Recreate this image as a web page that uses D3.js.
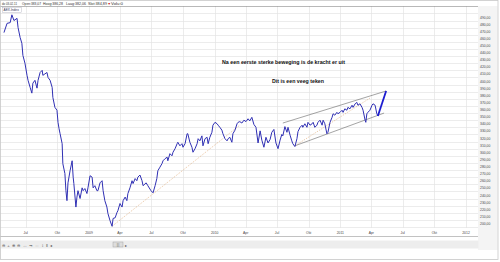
<!DOCTYPE html>
<html>
<head>
<meta charset="utf-8">
<script src="https://cdn.jsdelivr.net/npm/d3@7"></script>
<style>
body { margin: 0; background: #fff; }
text { font-family: "Liberation Sans", Arial, sans-serif; }
</style>
</head>
<body>
<div id="chart"></div>
<script>
// AEX-Index closes
var dates = [
  "2008-04-29","2008-05-08","2008-05-17","2008-05-22","2008-05-28","2008-06-06","2008-06-09","2008-06-15","2008-06-20","2008-06-23",
  "2008-06-29","2008-07-05","2008-07-08","2008-07-14","2008-07-19","2008-07-22","2008-07-28","2008-08-03","2008-08-06","2008-08-12",
  "2008-08-18","2008-08-20","2008-08-26","2008-09-01","2008-09-04","2008-09-10","2008-09-16","2008-09-18","2008-09-24","2008-09-30",
  "2008-10-03","2008-10-06","2008-10-09","2008-10-15","2008-10-17","2008-10-23","2008-10-26","2008-10-29","2008-11-01","2008-11-07",
  "2008-11-13","2008-11-16","2008-11-18","2008-11-24","2008-11-27","2008-11-30","2008-12-06","2008-12-12","2008-12-15","2008-12-20",
  "2008-12-26","2008-12-29","2009-01-04","2009-01-10","2009-01-13","2009-01-18","2009-01-24","2009-01-27","2009-02-02","2009-02-08",
  "2009-02-11","2009-02-16","2009-02-22","2009-02-25","2009-03-03","2009-03-09","2009-03-12","2009-03-18","2009-03-23","2009-03-26",
  "2009-04-01","2009-04-07","2009-04-10","2009-04-16","2009-04-21","2009-04-24","2009-04-30","2009-05-06","2009-05-09","2009-05-15",
  "2009-05-20","2009-05-23","2009-05-29","2009-06-04","2009-06-07","2009-06-16","2009-06-21","2009-06-30","2009-07-06","2009-07-12",
  "2009-07-17","2009-07-20","2009-07-26","2009-08-01","2009-08-04","2009-08-10","2009-08-16","2009-08-18","2009-08-24","2009-08-30",
  "2009-09-02","2009-09-08","2009-09-14","2009-09-16","2009-09-22","2009-09-28","2009-10-01","2009-10-07","2009-10-13","2009-10-15",
  "2009-10-21","2009-10-27","2009-10-30","2009-11-05","2009-11-11","2009-11-14","2009-11-19","2009-11-25","2009-11-28","2009-12-04",
  "2009-12-10","2009-12-13","2009-12-18","2009-12-24","2009-12-27","2010-01-02","2010-01-08","2010-01-11","2010-01-16","2010-01-22",
  "2010-01-25","2010-01-31","2010-02-06","2010-02-09","2010-02-14","2010-02-20","2010-02-23","2010-03-01","2010-03-07","2010-03-10",
  "2010-03-15","2010-03-21","2010-03-27","2010-04-02","2010-04-08","2010-04-13","2010-04-19","2010-04-25","2010-05-01","2010-05-07",
  "2010-05-13","2010-05-18","2010-05-24","2010-05-30","2010-06-05","2010-06-11","2010-06-16","2010-06-22","2010-06-28","2010-07-04",
  "2010-07-10","2010-07-15","2010-07-18","2010-07-24","2010-07-30","2010-08-02","2010-08-08","2010-08-13","2010-08-16","2010-08-22",
  "2010-08-28","2010-08-31","2010-09-06","2010-09-12","2010-09-14","2010-09-20","2010-09-26","2010-09-29","2010-10-05","2010-10-11",
  "2010-10-14","2010-10-19","2010-10-25","2010-10-28","2010-11-03","2010-11-09","2010-11-12","2010-11-17","2010-11-23","2010-11-26",
  "2010-12-02","2010-12-08","2010-12-11","2010-12-16","2010-12-22","2010-12-25","2010-12-31","2011-01-06","2011-01-09","2011-01-14",
  "2011-01-20","2011-01-23","2011-01-29","2011-02-04","2011-02-07","2011-02-13","2011-02-18","2011-02-21","2011-02-27","2011-03-05",
  "2011-03-08","2011-03-14","2011-03-16","2011-03-19","2011-03-22","2011-03-28","2011-04-03","2011-04-06","2011-04-12","2011-04-17",
  "2011-04-20"
];
var closes = [
  473,486,487,498,490,493,480,466,458,441,
  430,413,406,396,388,402,406,395,406,417,
  420,413,415,417,410,406,396,382,368,364,
  347,338,331,317,289,275,251,237,262,279,
  293,270,261,228,242,251,240,255,251,254,
  247,255,272,270,255,258,251,251,262,265,
  251,237,228,219,209,201,212,213,220,223,
  233,228,237,242,237,247,255,265,261,268,
  265,270,273,265,258,262,258,251,248,258,
  268,279,284,289,293,296,298,293,303,300,
  305,310,317,319,314,317,312,317,331,331,
  319,312,305,310,317,324,321,328,314,324,
  326,317,326,333,343,347,345,343,340,336,
  331,324,321,324,326,319,331,336,345,347,
  348,346,350,348,352,349,354,344,340,318,
  335,322,312,326,318,323,333,337,318,310,
  322,330,328,341,333,340,329,321,317,313,
  324,334,340,343,340,345,340,347,343,345,
  347,340,343,347,350,343,350,345,331,333,
  347,354,359,357,361,359,361,364,361,366,
  364,368,366,371,368,373,375,371,373,368,
  364,350,347,359,361,364,371,373,371,359,
  356
];

// drawn-in lines (date, level)
var supportLine   = [["2009-03-09", 201], ["2010-03-15", 343]];
var trendLine     = [["2010-08-22", 314], ["2011-03-28", 381]];
var channelUpper  = [["2010-07-18", 346], ["2011-05-14", 391]];
var channelLower  = [["2010-08-22", 314], ["2011-05-08", 360]];
var projection    = [["2011-04-20", 356], ["2011-05-14", 391]];

var yTicks = d3.range(200, 500, 10);
var quarterNames = ["", "Apr", "Jul", "Okt"];
var headerItems = ["do 03-02-11", "Open:383,07", "Hoog:386,28", "Laag:382,06", "Slot:384,89", "Volu:0"];
var notes = ["Na een eerste sterke beweging is de kracht er uit", "Dit is een veeg teken"];

var parse = d3.timeParse("%Y-%m-%d");
var W = 500, H = 262;
var plot = {left: 0, top: 6, right: 478, bottom: 228};

var svg = d3.select("#chart")
  .append("svg")
    .attr("width", W)
    .attr("height", H);

svg.append("rect").attr("width", W).attr("height", H).attr("fill", "#fff");

// scales
var x = d3.scaleTime()
  .domain([parse("2009-01-01"), parse("2012-01-01")])
  .range([89, 466]);
var y = d3.scaleLinear()
  .domain([200, 490])
  .range([227, 20.5]);

// right label column + toolbar strip
svg.append("rect").attr("x", plot.right).attr("y", plot.top).attr("width", 19.5).attr("height", 244)
  .attr("fill", "#f4f4f4");
svg.append("rect").attr("x", 0.5).attr("y", 240.5).attr("width", plot.right).attr("height", 8)
  .attr("fill", "#ededed");

// grid
var quarters = d3.timeMonth.every(3).range(x.invert(plot.left), x.invert(plot.right));
svg.append("g").selectAll("line.h")
  .data(d3.range(200, 501, 10))
  .join("line")
    .attr("x1", plot.left).attr("x2", plot.right)
    .attr("y1", function(d) { return Math.round(y(d)) + 0.5; })
    .attr("y2", function(d) { return Math.round(y(d)) + 0.5; })
    .attr("stroke", "#e4e4e4").attr("stroke-width", 0.7);
svg.append("g").selectAll("line.v")
  .data(quarters)
  .join("line")
    .attr("x1", function(d) { return Math.round(x(d)) + 0.5; })
    .attr("x2", function(d) { return Math.round(x(d)) + 0.5; })
    .attr("y1", plot.top).attr("y2", plot.bottom)
    .attr("stroke", "#e4e4e4").attr("stroke-width", 0.7);

// borders
svg.append("line").attr("x1", 0).attr("x2", plot.right).attr("y1", plot.top + 0.5).attr("y2", plot.top + 0.5)
  .attr("stroke", "#888").attr("stroke-width", 0.6);
svg.append("line").attr("x1", 0).attr("x2", plot.right).attr("y1", 236.5).attr("y2", 236.5)
  .attr("stroke", "#999").attr("stroke-width", 0.6);
svg.append("rect").attr("x", 0.5).attr("y", 0.5).attr("width", W - 2.5).attr("height", H - 3)
  .attr("fill", "none").attr("stroke", "#c8c8c8").attr("stroke-width", 0.8);

// y labels (sit just above their gridline)
svg.append("g").selectAll("text")
  .data(yTicks)
  .join("text")
    .attr("x", 480)
    .attr("y", function(d) { return y(d) - 2; })
    .attr("font-size", 3.4)
    .attr("fill", "#444")
    .text(function(d) { return d3.format(".2f")(d).replace(".", ","); });

// x labels
svg.append("g").selectAll("text")
  .data(quarters)
  .join("text")
    .attr("x", function(d) { return x(d); })
    .attr("y", 234)
    .attr("text-anchor", "middle")
    .attr("font-size", 3.4)
    .attr("fill", "#444")
    .text(function(d) { return d.getMonth() === 0 ? d.getFullYear() : quarterNames[d.getMonth() / 3]; });

// clip
svg.append("clipPath").attr("id", "clip")
  .append("rect").attr("x", plot.left).attr("y", plot.top).attr("width", plot.right - plot.left).attr("height", plot.bottom - plot.top);

var g = svg.append("g").attr("clip-path", "url(#clip)");

var series = dates.map(function(d, i) { return {date: parse(d), value: closes[i]}; });
var line = d3.line()
  .x(function(d) { return x(d.date); })
  .y(function(d) { return y(d.value); });
var segLine = d3.line()
  .x(function(d) { return x(parse(d[0])); })
  .y(function(d) { return y(d[1]); });

// dotted support lines
[supportLine, trendLine].forEach(function(s) {
  g.append("path").datum(s)
    .attr("fill", "none").attr("stroke", "#d99a5e").attr("stroke-width", 0.6)
    .attr("stroke-dasharray", "1,1.2")
    .attr("d", segLine);
});
// channel
[channelUpper, channelLower].forEach(function(s) {
  g.append("path").datum(s)
    .attr("fill", "none").attr("stroke", "#666").attr("stroke-width", 0.6)
    .attr("d", segLine);
});

// the index
g.append("path")
  .datum(series)
  .attr("fill", "none")
  .attr("stroke", "#3030b4")
  .attr("stroke-width", 1)
  .attr("stroke-linejoin", "round")
  .attr("d", line);

// projection
g.append("path").datum(projection)
  .attr("fill", "none").attr("stroke", "#1c1cd0").attr("stroke-width", 1.8)
  .attr("d", segLine);

// index name box
svg.append("rect").attr("x", 2.5).attr("y", 7.5).attr("width", 19).attr("height", 5)
  .attr("fill", "#fff").attr("stroke", "#aab").attr("stroke-width", 0.4);
svg.append("text").attr("x", 3.5).attr("y", 11.3).attr("font-size", 3.2).attr("fill", "#335")
  .text("AEX-Index");

// header
var headerX = [2, 22, 43, 66, 88, 111];
var headerW = [15, 19, 20, 20, 19, 12];
svg.append("g").selectAll("text")
  .data(headerItems)
  .join("text")
    .attr("x", function(d, i) { return headerX[i]; })
    .attr("y", 4.8)
    .attr("font-size", 3.8)
    .attr("fill", "#333")
    .attr("textLength", function(d, i) { return headerW[i]; })
    .attr("lengthAdjust", "spacingAndGlyphs")
    .text(function(d) { return d; });
svg.append("text").attr("x", 107.5).attr("y", 4.8).attr("font-size", 3.4).attr("fill", "#d02020").text("▼");

// notes
svg.append("text").attr("x", 222).attr("y", 63.5)
  .attr("font-size", 4.8).attr("font-weight", "bold").attr("fill", "#111")
  .attr("textLength", 123).attr("lengthAdjust", "spacingAndGlyphs")
  .text(notes[0]);
svg.append("text").attr("x", 272).attr("y", 82.5)
  .attr("font-size", 4.8).attr("font-weight", "bold").attr("fill", "#111")
  .attr("textLength", 52).attr("lengthAdjust", "spacingAndGlyphs")
  .text(notes[1]);

// toolbar
svg.append("text").attr("x", 2).attr("y", 246.8)
  .attr("font-family", "DejaVu Sans").attr("font-size", 4.4).attr("fill", "#555")
  .attr("textLength", 50).attr("lengthAdjust", "spacing")
  .text("⊖ + ⊕ ⊖ ↔ ⇥ ⇔ ↕ ‖ ◂");
svg.append("rect").attr("x", 113).attr("y", 242).attr("width", 10).attr("height", 5)
  .attr("fill", "#ddd").attr("stroke", "#999").attr("stroke-width", 0.4);
svg.append("text").attr("x", 118).attr("y", 246).attr("text-anchor", "middle")
  .attr("font-size", 3).attr("fill", "#666").text("|||");
svg.append("text").attr("x", 125).attr("y", 246.5)
  .attr("font-family", "DejaVu Sans").attr("font-size", 3.5).attr("fill", "#555").text("▸");
</script>
</body>
</html>
